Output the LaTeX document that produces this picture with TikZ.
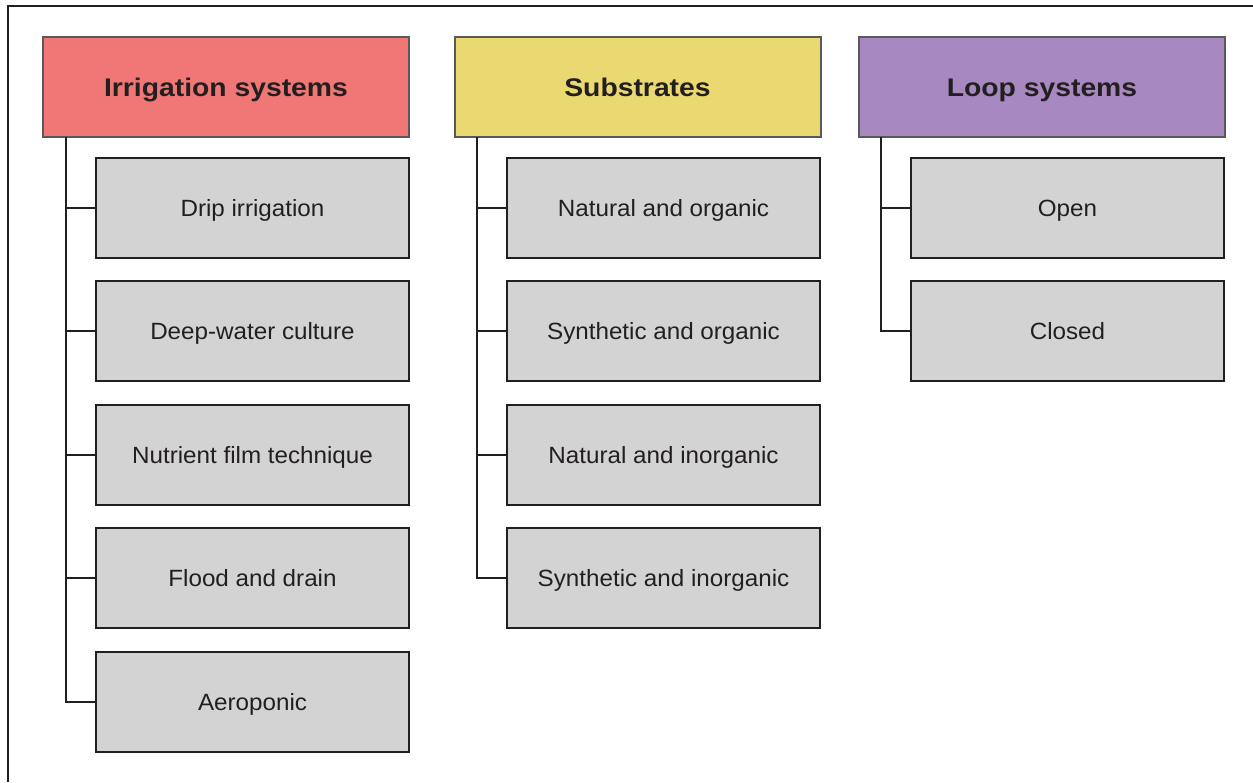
\documentclass[tikz,border=0pt]{standalone}
\usepackage{fontspec}
\setmainfont{Liberation Sans}
\newfontfamily\hfont[FakeStretch=1.11]{Liberation Sans}
\newfontfamily\cfont[FakeStretch=1.03]{Liberation Sans}
\definecolor{hred}{HTML}{F07775}
\definecolor{hyel}{HTML}{EAD871}
\definecolor{hpur}{HTML}{A788C0}
\definecolor{cgrey}{HTML}{D3D3D3}
\definecolor{hline}{HTML}{5A5A5A}
\definecolor{dline}{HTML}{231F20}
\tikzset{
  header/.style={draw=hline, line width=2pt, minimum width=366pt, minimum height=100pt, inner sep=0pt, text height=18pt, text depth=0pt, font=\hfont\fontsize{25.5}{30}\selectfont\bfseries, text=dline},
  child/.style={draw=dline, fill=cgrey, line width=2.4pt, minimum width=313pt, minimum height=100pt, inner sep=0pt, text height=16.8pt, text depth=0pt, font=\cfont\fontsize{23.5}{27}\selectfont, text=dline},
  conn/.style={draw=dline, line width=2.4pt},
  frame/.style={draw=dline, line width=2.2pt}
}
\begin{document}
\begin{tikzpicture}[x=1pt, y=-1pt]
\useasboundingbox (0,0) rectangle (1253,782);
\coordinate (fb) at (8,782);
\coordinate (fc) at (8,6);
\coordinate (fr) at (1253,6);
\draw[frame] (fb) -- (fc) -- (fr);

\node[header, fill=hred] (h1) at (226,87) {Irrigation systems};
\node[header, fill=hyel] (h2) at (637.5,87) {Substrates};
\node[header, fill=hpur] (h3) at (1042,87) {Loop systems};

\node[child] (a1) at (252.5,208) {Drip irrigation};
\node[child] (a2) at (252.5,331) {Deep-water culture};
\node[child] (a3) at (252.5,455) {Nutrient film technique};
\node[child] (a4) at (252.5,578) {Flood and drain};
\node[child] (a5) at (252.5,702) {Aeroponic};

\node[child] (b1) at (663.5,208) {Natural and organic};
\node[child] (b2) at (663.5,331) {Synthetic and organic};
\node[child] (b3) at (663.5,455) {Natural and inorganic};
\node[child] (b4) at (663.5,578) {Synthetic and inorganic};

\node[child] (c1) at (1067.5,208) {Open};
\node[child] (c2) at (1067.5,331) {Closed};

\coordinate (t1) at (66,137);
\coordinate (t2) at (477,137);
\coordinate (t3) at (881,137);

\foreach \n in {a1,a2,a3,a4,a5} \draw[conn] (t1) |- (\n.west);
\foreach \n in {b1,b2,b3,b4} \draw[conn] (t2) |- (\n.west);
\foreach \n in {c1,c2} \draw[conn] (t3) |- (\n.west);
\end{tikzpicture}
\end{document}
